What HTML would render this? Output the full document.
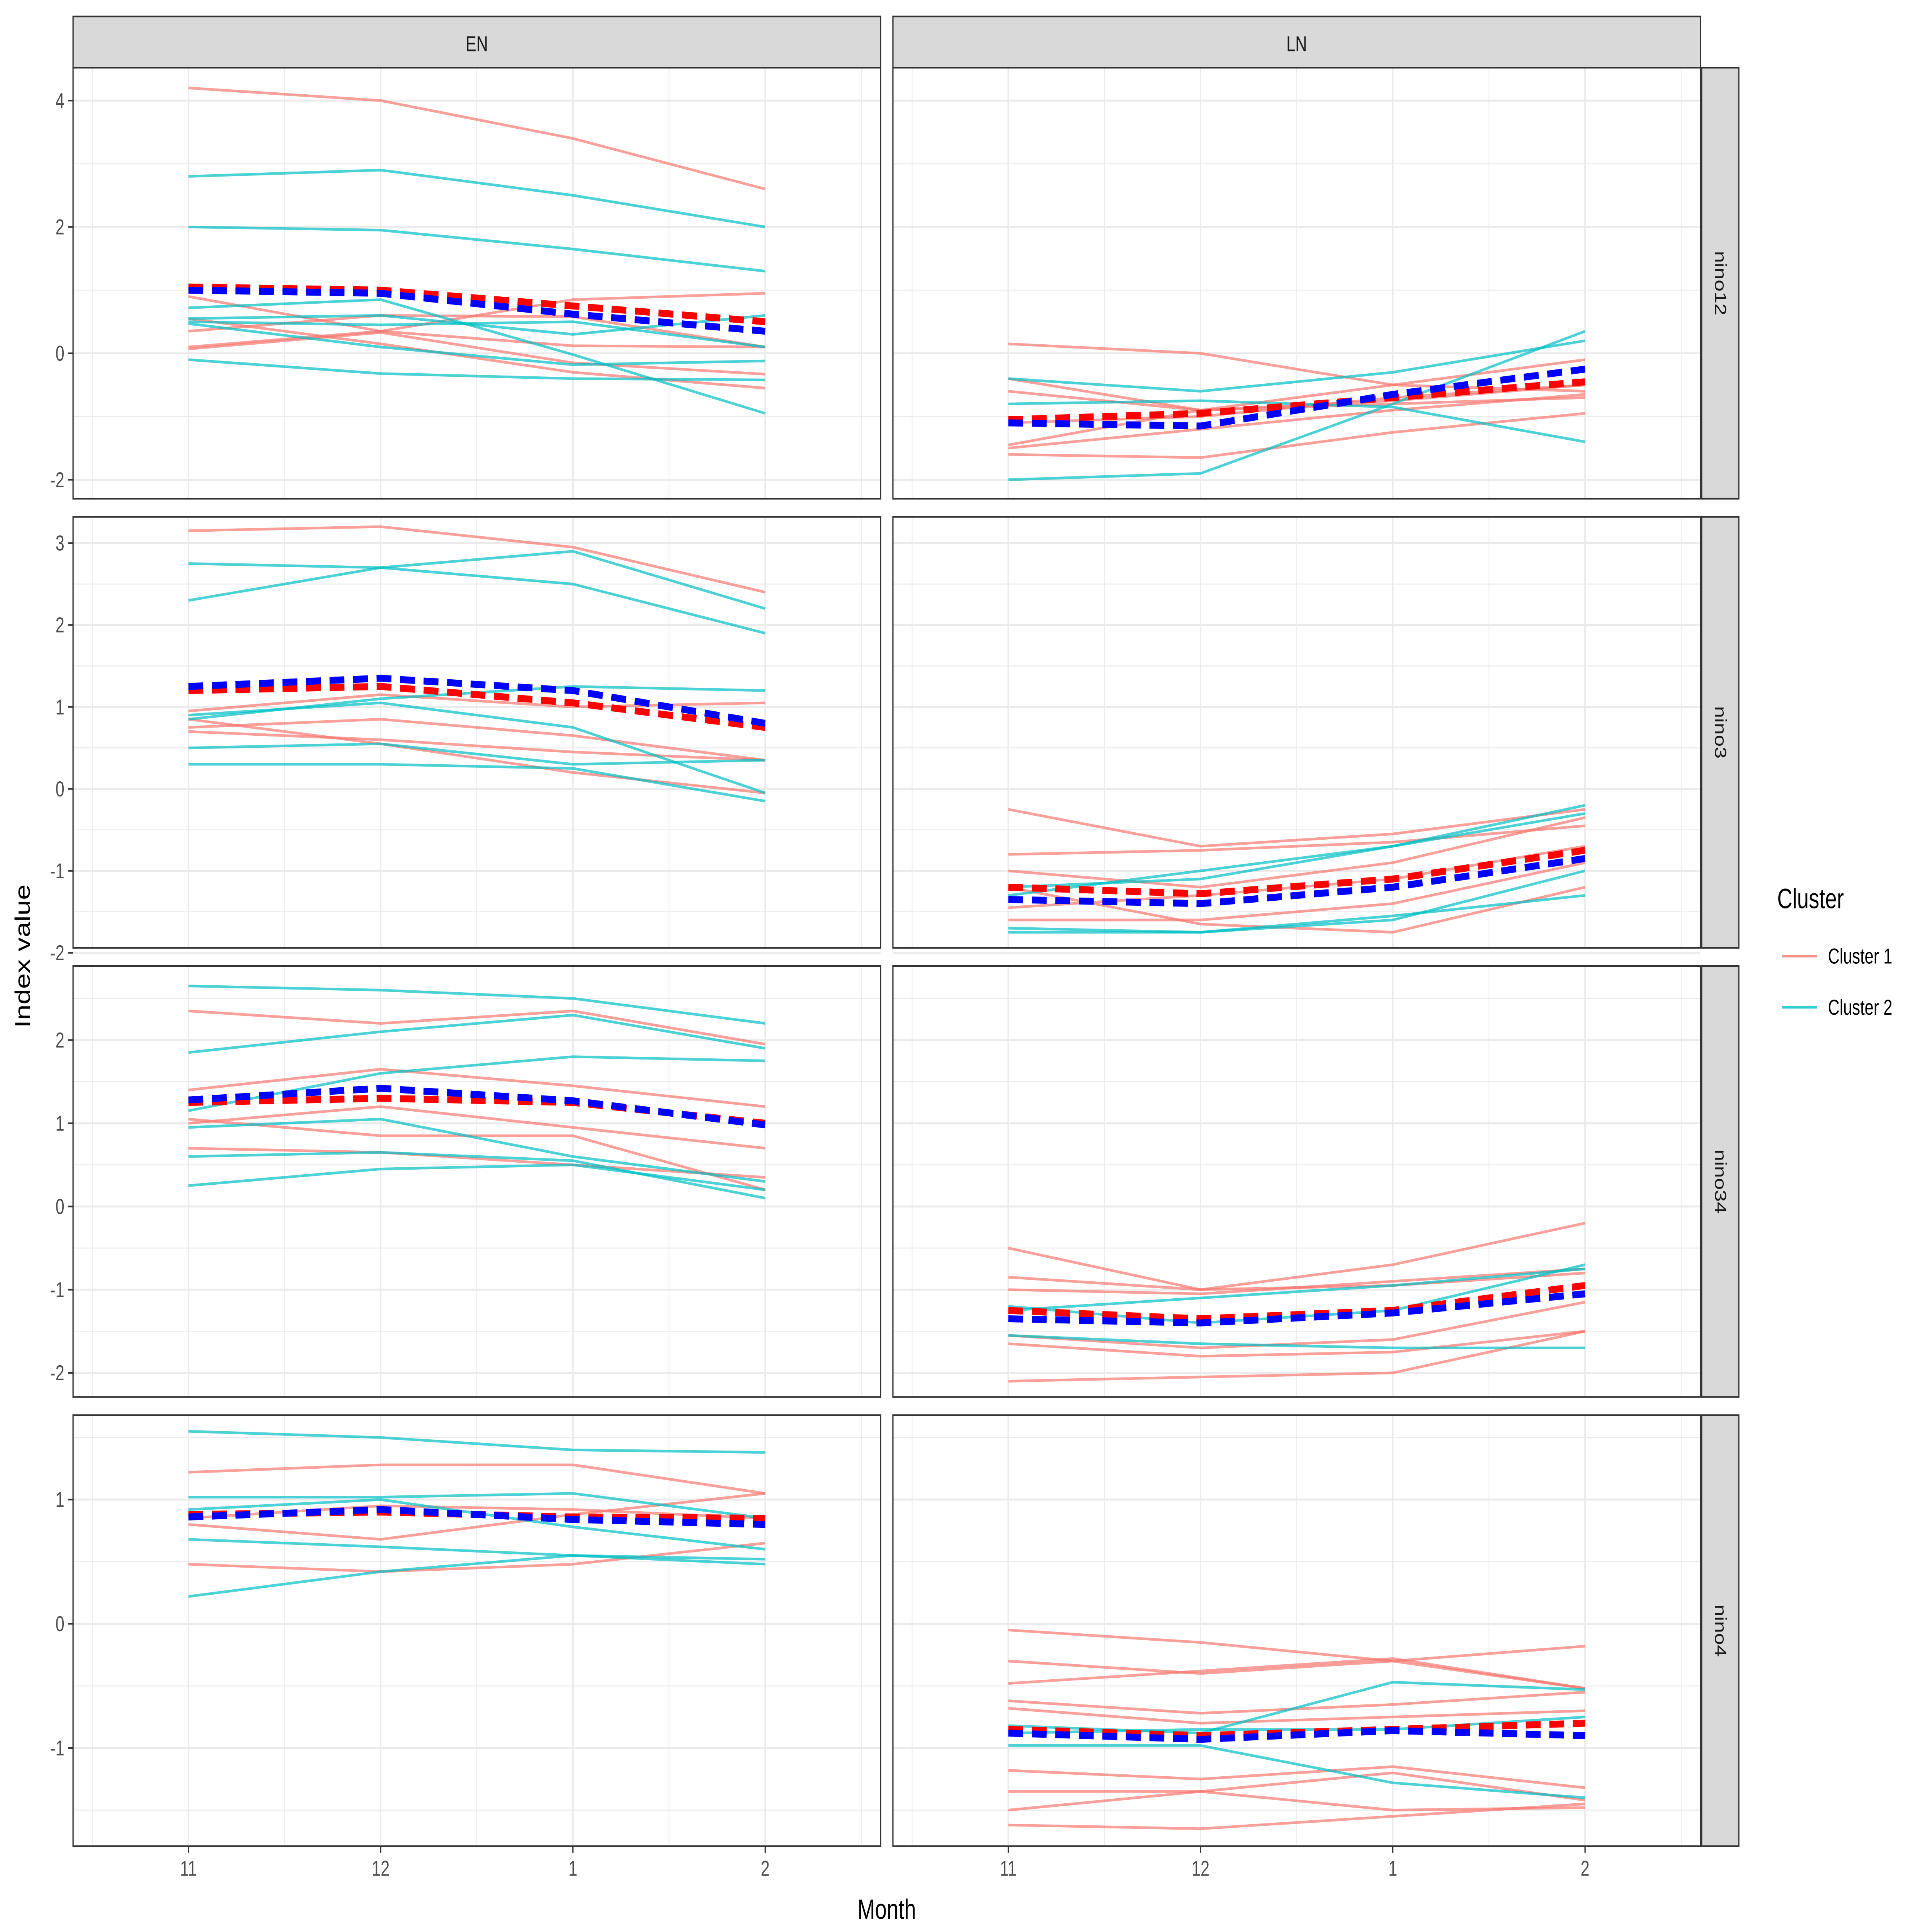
<!DOCTYPE html>
<html><head><meta charset="utf-8"><style>
html,body{margin:0;padding:0;background:#fff;overflow:hidden;width:100vw;height:100vh;}
svg{display:block;width:100vw;height:100vh;}
text{font-family:"Liberation Sans","DejaVu Sans",sans-serif;}
</style></head><body>
<svg id="chart" xmlns="http://www.w3.org/2000/svg" viewBox="0 0 1560 1170" preserveAspectRatio="none">
<rect x="0" y="0" width="1560" height="1170" fill="#fff"/>
<g id="root"></g>
</svg>
<script>
const months = ["11","12","1","2"];
const regions = ["nino12","nino3","nino34","nino4"];
const phases = ["EN","LN"];
const yTicks = [[-2,0,2,4],[-2,-1,0,1,2,3],[-2,-1,0,1,2],[-1,0,1]];
const c1 = [
 [[[4.2,4.0,3.4,2.6],[0.9,0.35,0.12,0.1],[0.35,0.6,0.58,0.1],[0.1,0.35,0.85,0.95],[0.55,0.15,-0.3,-0.55],[0.07,0.33,-0.15,-0.33]],
  [[0.15,0,-0.5,-0.1],[-0.4,-0.9,-0.5,-0.6],[-1.1,-1.0,-0.7,-0.5],[-1.5,-1.2,-0.9,-0.65],[-1.6,-1.65,-1.25,-0.95],[-1.45,-0.9,-0.75,-0.5],[-0.6,-0.9,-0.8,-0.7]]],
 [[[3.15,3.2,2.95,2.4],[0.95,1.15,1.0,1.05],[0.75,0.85,0.65,0.35],[0.7,0.6,0.45,0.35],[0.85,0.55,0.2,-0.05]],
  [[-0.25,-0.7,-0.55,-0.25],[-0.8,-0.75,-0.65,-0.45],[-1.0,-1.2,-0.9,-0.35],[-1.6,-1.6,-1.4,-0.9],[-1.2,-1.65,-1.75,-1.2],[-1.45,-1.3,-1.1,-0.7]]],
 [[[2.35,2.2,2.35,1.95],[1.4,1.65,1.45,1.2],[1.0,1.2,0.95,0.7],[0.7,0.65,0.5,0.35],[1.05,0.85,0.85,0.2]],
  [[-0.5,-1.0,-0.7,-0.2],[-0.85,-1.0,-0.95,-0.8],[-1.0,-1.05,-0.9,-0.75],[-1.55,-1.7,-1.6,-1.15],[-1.65,-1.8,-1.75,-1.5],[-2.1,-2.05,-2.0,-1.5]]],
 [[[1.22,1.28,1.28,1.05],[0.8,0.68,0.88,1.05],[0.48,0.42,0.48,0.65],[0.85,0.95,0.92,0.85]],
  [[-0.05,-0.15,-0.3,-0.52],[-0.3,-0.4,-0.3,-0.18],[-0.48,-0.38,-0.28,-0.52],[-0.62,-0.72,-0.65,-0.55],[-0.68,-0.8,-0.75,-0.7],[-1.18,-1.25,-1.15,-1.32],[-1.35,-1.35,-1.5,-1.48],[-1.5,-1.35,-1.2,-1.42],[-1.62,-1.65,-1.55,-1.45]]]
];
const c2 = [
 [[[2.8,2.9,2.5,2.0],[2.0,1.95,1.65,1.3],[0.72,0.85,-0.02,-0.95],[0.55,0.6,0.3,0.6],[0.5,0.45,0.5,0.1],[0.47,0.1,-0.18,-0.12],[-0.1,-0.32,-0.4,-0.42]],
  [[-2.0,-1.9,-0.8,0.35],[-0.8,-0.75,-0.85,-1.4],[-0.4,-0.6,-0.3,0.2]]],
 [[[2.3,2.7,2.9,2.2],[2.75,2.7,2.5,1.9],[0.85,1.1,1.25,1.2],[0.9,1.05,0.75,-0.05],[0.5,0.55,0.3,0.35],[0.3,0.3,0.25,-0.15]],
  [[-1.75,-1.75,-1.55,-1.3],[-1.3,-1.0,-0.7,-0.2],[-1.2,-1.1,-0.7,-0.3],[-1.7,-1.75,-1.6,-1.0]]],
 [[[2.65,2.6,2.5,2.2],[1.85,2.1,2.3,1.9],[1.15,1.6,1.8,1.75],[0.95,1.05,0.6,0.3],[0.6,0.65,0.55,0.1],[0.25,0.45,0.5,0.2]],
  [[-1.25,-1.1,-0.95,-0.75],[-1.55,-1.65,-1.7,-1.7],[-1.2,-1.4,-1.25,-0.7]]],
 [[[1.55,1.5,1.4,1.38],[1.02,1.02,1.05,0.85],[0.68,0.62,0.55,0.48],[0.22,0.42,0.55,0.52],[0.92,1.0,0.78,0.6]],
  [[-0.82,-0.88,-0.47,-0.53],[-0.98,-0.98,-1.28,-1.4],[-0.88,-0.85,-0.85,-0.75]]]
];
const mean1 = [[[1.05,1.0,0.75,0.5],[-1.05,-0.95,-0.7,-0.45]],[[1.2,1.25,1.05,0.75],[-1.2,-1.28,-1.1,-0.75]],[[1.25,1.3,1.25,1.0],[-1.25,-1.35,-1.25,-0.95]],[[0.88,0.9,0.86,0.85],[-0.85,-0.9,-0.85,-0.8]]];
const mean2 = [[[1.0,0.95,0.62,0.35],[-1.1,-1.15,-0.65,-0.25]],[[1.25,1.35,1.2,0.8],[-1.35,-1.4,-1.2,-0.85]],[[1.28,1.42,1.27,0.98],[-1.35,-1.4,-1.28,-1.05]],[[0.86,0.92,0.84,0.8],[-0.88,-0.93,-0.86,-0.9]]];

const NS="http://www.w3.org/2000/svg";
const root=document.getElementById('root');
function mk(tag,attrs,parent){const e=document.createElementNS(NS,tag);for(const k in attrs)e.setAttribute(k,attrs[k]);(parent||root).appendChild(e);return e;}
const colX=[59,721], panW=652;
const rowY=[41,313,585,857], panH=261;
const yDom=[[-2.3,4.52],[-1.94,3.32],[-2.29,2.89],[-1.79,1.68]];
const minorStep=[1,0.5,0.5,0.5];
function xs(c,i){return colX[c]+(i+1-0.4)/4.2*panW;}
function ys(r,v){const d=yDom[r];return rowY[r]+panH-(v-d[0])/(d[1]-d[0])*panH;}
function path(c,r,vals){return vals.map((v,i)=>(i?'L':'M')+xs(c,i).toFixed(2)+' '+ys(r,v).toFixed(2)).join(' ');}

for(let c=0;c<2;c++){
  const s=mk('rect',{x:colX[c],y:10,width:panW,height:31,fill:'#d9d9d9',stroke:'#333',"stroke-width":1});
  
  
  const t=mk('text',{x:colX[c]+panW/2,y:31,"text-anchor":"middle","font-size":13,fill:'#1a1a1a'});
  t.textContent=phases[c];
  
  
}
for(let r=0;r<4;r++){
  const s=mk('rect',{x:1374,y:rowY[r],width:30,height:panH,fill:'#d9d9d9',stroke:'#333',"stroke-width":1});
  
  
  const cy=rowY[r]+panH/2;
  const t=mk('text',{x:1389,y:cy,"text-anchor":"middle","font-size":13,fill:'#1a1a1a',transform:`rotate(90 1389 ${cy})`,"dominant-baseline":"central"});
  t.textContent=regions[r];
  
  
  for(let c=0;c<2;c++){
    const g=mk('g',{});
    
    
    mk('rect',{x:colX[c],y:rowY[r],width:panW,height:panH,fill:'#fff'},g);
    const d=yDom[r];
    for(let v=Math.ceil(d[0]/minorStep[r])*minorStep[r]; v<=d[1]; v+=minorStep[r]){
      if(yTicks[r].some(t=>Math.abs(t-v)<1e-6)) continue;
      mk('line',{x1:colX[c],x2:colX[c]+panW,y1:ys(r,v),y2:ys(r,v),stroke:'#ebebeb',"stroke-width":0.6},g);
    }
    for(let i=0;i<5;i++){const xv=colX[c]+(i+0.5-0.4)/4.2*panW;mk('line',{x1:xv,x2:xv,y1:rowY[r],y2:rowY[r]+panH,stroke:'#ebebeb',"stroke-width":0.6},g);}
    yTicks[r].forEach(v=>mk('line',{x1:colX[c],x2:colX[c]+panW,y1:ys(r,v),y2:ys(r,v),stroke:'#ebebeb',"stroke-width":1.2},g));
    for(let i=0;i<4;i++) mk('line',{x1:xs(c,i),x2:xs(c,i),y1:rowY[r],y2:rowY[r]+panH,stroke:'#ebebeb',"stroke-width":1.2},g);
    c1[r][c].forEach((vals,k)=>{const p=mk('path',{d:path(c,r,vals),fill:'none',stroke:'#F8766D',"stroke-opacity":0.7,"stroke-width":1.6},g);
      });
    c2[r][c].forEach((vals,k)=>{const p=mk('path',{d:path(c,r,vals),fill:'none',stroke:'#00BFC4',"stroke-opacity":0.7,"stroke-width":1.6},g);
      });
    const m1=mk('path',{d:path(c,r,mean1[r][c]),fill:'none',stroke:'#ff0000',"stroke-width":4.2,"stroke-dasharray":"12 7"},g);
    
    const m2=mk('path',{d:path(c,r,mean2[r][c]),fill:'none',stroke:'#0000ff',"stroke-width":4.2,"stroke-dasharray":"12 7"},g);
    
    mk('rect',{x:colX[c],y:rowY[r],width:panW,height:panH,fill:'none',stroke:'#333',"stroke-width":1},g);
  }
  yTicks[r].forEach(v=>{
    mk('line',{x1:55,x2:59,y1:ys(r,v),y2:ys(r,v),stroke:'#333',"stroke-width":1});
    const t=mk('text',{x:52,y:ys(r,v)+4.5,"text-anchor":"end","font-size":13,fill:'#4d4d4d'});
    t.textContent=String(v);
    
    
  });
}
for(let c=0;c<2;c++) for(let i=0;i<4;i++){
  mk('line',{x1:xs(c,i),x2:xs(c,i),y1:1118,y2:1122,stroke:'#333',"stroke-width":1});
  const t=mk('text',{x:xs(c,i),y:1136,"text-anchor":"middle","font-size":13,fill:'#4d4d4d'});
  t.textContent=months[i];
  
  
}
let t=mk('text',{x:716,y:1162,"text-anchor":"middle","font-size":17,fill:'#000'});t.textContent='Month';

t=mk('text',{x:24,y:579,"text-anchor":"middle","font-size":17,fill:'#000',transform:'rotate(-90 24 579)'});t.textContent='Index value';

const lg=mk('g',{});
t=mk('text',{x:1435,y:550,"font-size":17,fill:'#000'},lg);t.textContent='Cluster';

[["Cluster 1","#F8766D",579],["Cluster 2","#00BFC4",610]].forEach(e=>{
  const l=mk('line',{x1:1439,x2:1467,y1:e[2],y2:e[2],stroke:e[1],"stroke-opacity":0.8,"stroke-width":1.6},lg);
  
  const tt=mk('text',{x:1476,y:e[2]+4.5,"font-size":13,fill:'#000'},lg);tt.textContent=e[0];
  
});
</script>
</body></html>
